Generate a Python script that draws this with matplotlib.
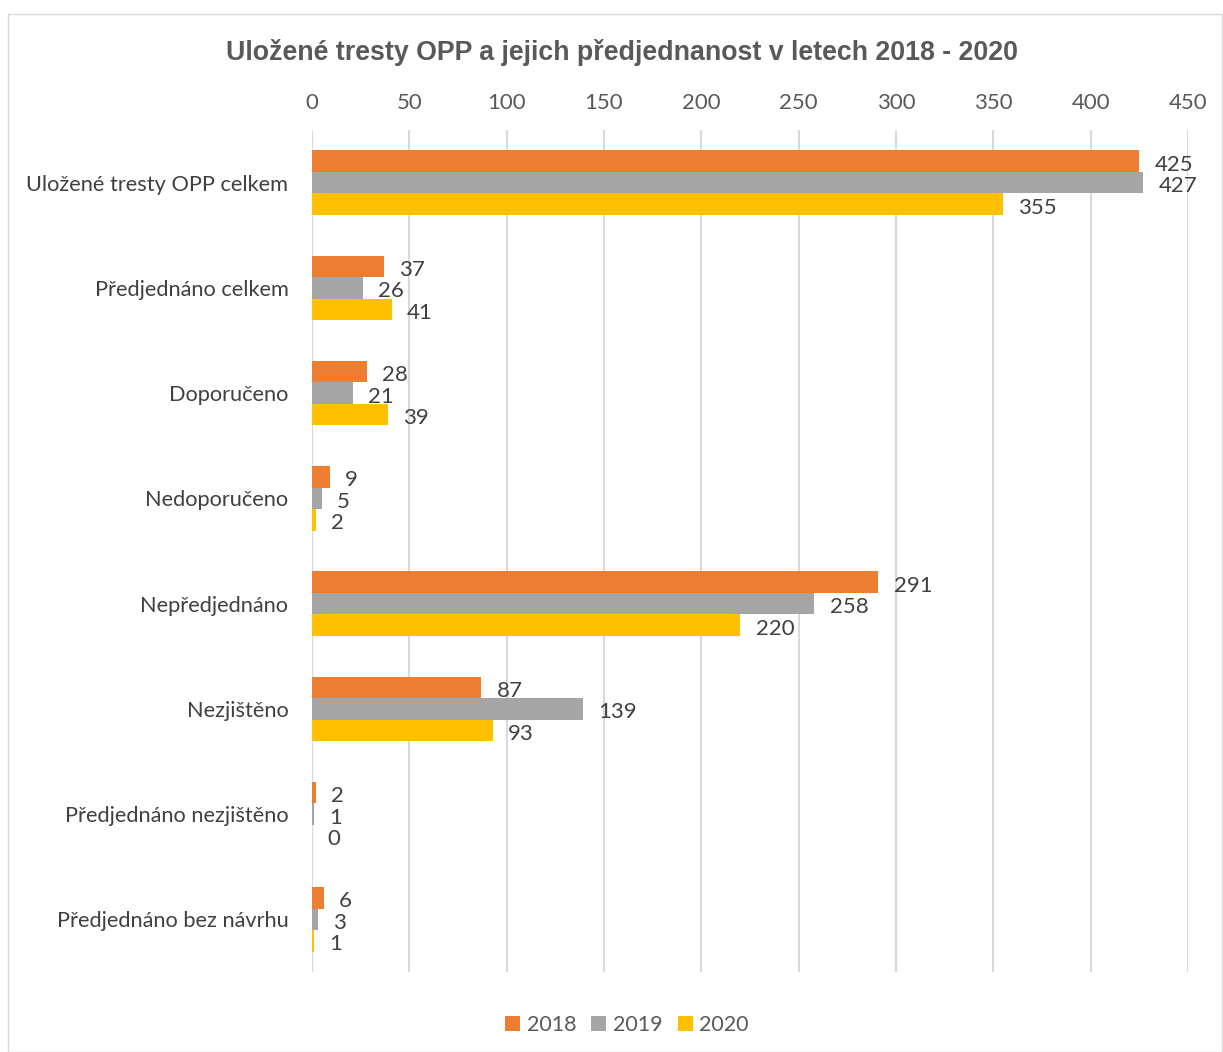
import numpy as np
import matplotlib.pyplot as plt
from matplotlib.patches import Rectangle

categories = ['Uložené tresty OPP celkem', 'Předjednáno celkem', 'Doporučeno',
              'Nedoporučeno', 'Nepředjednáno', 'Nezjištěno',
              'Předjednáno nezjištěno', 'Předjednáno bez návrhu']
v2018 = [425, 37, 28, 9, 291, 87, 2, 6]
v2019 = [427, 26, 21, 5, 258, 139, 1, 3]
v2020 = [355, 41, 39, 2, 220, 93, 0, 1]
years = ['2018', '2019', '2020']
colors = ['#ED7D31', '#A5A5A5', '#FFC000']

plt.rcParams['font.family'] = ['Lato', 'DejaVu Sans']

fig = plt.figure(figsize=(12.23, 10.52), dpi=100)
ax = fig.add_axes([312/1223, 1-972/1052, 876/1223, 842/1052])

# chart frame
fig.patches.append(Rectangle((8/1223, 0), 1214/1223, 1-14/1052, transform=fig.transFigure,
                             fill=False, edgecolor='#D9D9D9', linewidth=1))

y = np.arange(len(categories))
h = 0.205
series = [v2018, v2019, v2020]
for i, (vals, c, yr) in enumerate(zip(series, colors, years)):
    pos = y + (i - 1) * h
    ax.barh(pos, vals, height=h, color=c, label=yr, zorder=3)
    for p, v in zip(pos, vals):
        ax.annotate(str(v), (v, p), xytext=(11, -2.5), textcoords='offset points',
                    va='center', ha='left', fontsize=16, color='#404040')

ax.set_xlim(0, 450)
ax.set_ylim(len(categories) - 0.5, -0.5)
ax.set_xticks(np.arange(0, 451, 50))
ax.xaxis.tick_top()
ax.tick_params(axis='x', length=0, labelsize=16, labelcolor='#595959', pad=12)
ax.set_yticks(y)
ax.set_yticklabels(categories)
ax.tick_params(axis='y', length=0, labelsize=15.7, labelcolor='#404040', pad=17)
ax.grid(axis='x', color='#D9D9D9', linewidth=1.5, zorder=0)
for s in ax.spines.values():
    s.set_visible(False)

fig.text(622/1223, 1-52/1052, 'Uložené tresty OPP a jejich předjednanost v letech 2018 - 2020',
         ha='center', va='center', fontsize=19.3, fontweight='bold', color='#595959',
         family='Liberation Sans')

fig.legend(loc='center', bbox_to_anchor=(627/1223, 1-1025/1052), ncol=3, frameon=False,
           fontsize=15.5, handlelength=0.7, handleheight=0.7, handletextpad=0.3,
           columnspacing=0.7, labelcolor='#595959')

fig.savefig('out.png', dpi=100)
